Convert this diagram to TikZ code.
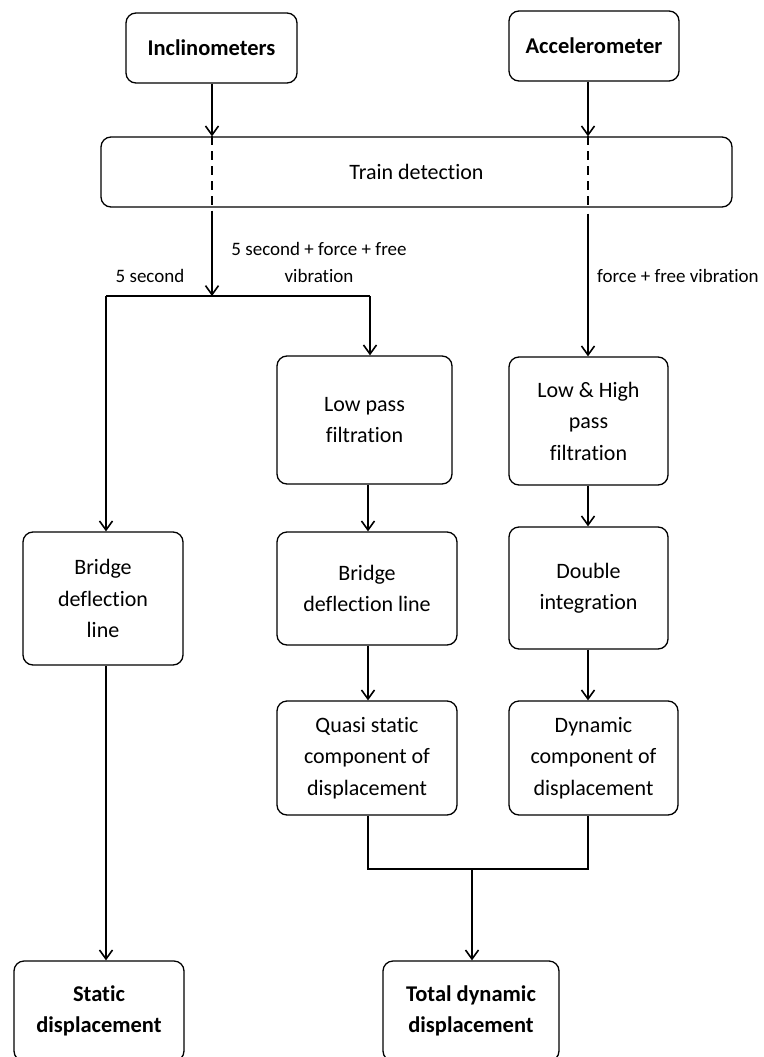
\documentclass[tikz,border=0pt]{standalone}
\usepackage{fontspec}
\setmainfont{Carlito}[Ligatures={NoCommon,NoContextual}]
\usetikzlibrary{arrows.meta,calc}
\begin{document}
\begin{tikzpicture}[x=1pt,y=-1pt,
  box/.style={draw, line width=1.3pt, rounded corners=10pt, align=center, inner sep=0pt,
    font=\fontsize{22}{31.5}\selectfont},
  bbox/.style={box, font=\fontsize{22.5}{31.5}\selectfont\bfseries},
  ln/.style={line width=1.9pt},
  arr/.style={line width=1.9pt, -{Straight Barb[length=9pt,width=13pt,line width=1.6pt]}},
  dsh/.style={line width=1.9pt, dash pattern=on 9pt off 6pt},
  lab/.style={font=\fontsize{19}{27}\selectfont, align=center, inner sep=0pt}]
\useasboundingbox (0,0) rectangle (763,1057);
\fill[white] (0,0) rectangle (763,1057);

% column coordinates
\coordinate (xI) at (212,0);
\coordinate (xR) at (588,0);
\coordinate (xM) at (368,0);
\coordinate (xL) at (106,0);
\coordinate (split) at (212,296);
\coordinate (hl) at (106,296);
\coordinate (hr) at (370,296);
\coordinate (bar) at (472,869);

% nodes
\node[bbox, minimum width=171pt, minimum height=70pt] (incl) at (211.5,48) {Inclinometers};
\node[bbox, minimum width=170pt, minimum height=70pt] (accel) at (594,46) {Accelerometer};
\node[box, minimum width=631pt, minimum height=70pt] (train) at (416.5,172) {Train detection};
\node[box, minimum width=175pt, minimum height=128pt] (lowpass) at (364.5,420) {Low pass\\filtration};
\node[box, minimum width=159pt, minimum height=128pt] (lowhigh) at (588.5,421) {Low \& High\\pass\\filtration};
\node[box, minimum width=160pt, minimum height=133pt] (bridgeL) at (103,598.5) {Bridge\\deflection\\line};
\node[box, minimum width=180pt, minimum height=113pt] (bridgeM) at (367,588.5) {Bridge\\deflection line};
\node[box, minimum width=159pt, minimum height=122pt] (double) at (588.5,588) {Double\\integration};
\node[box, minimum width=180pt, minimum height=114pt] (quasi) at (367,758) {Quasi static\\component of\\displacement};
\node[box, minimum width=169pt, minimum height=114pt] (dynamic) at (593.5,758) {Dynamic\\component of\\displacement};
\node[bbox, minimum width=170pt, minimum height=100pt] (static) at (99,1011) {Static\\displacement};
\node[bbox, minimum width=176pt, minimum height=100pt] (total) at (471,1011) {Total dynamic\\displacement};

% labels
\node[lab] (l5) at (150,276) {5 second};
\node[lab] (l5f) at (319,262) {5 second + force + free\\vibration};
\node[lab, anchor=west] (lf) at (597,276) {force + free vibration};

% connectors
\draw[arr] (incl.south -| xI) -- (train.north -| xI);
\draw[arr] (accel.south -| xR) -- (train.north -| xR);
\draw[dsh] (train.north -| xI) -- (train.south -| xI);
\draw[dsh] (train.north -| xR) -- (train.south -| xR);
\draw[arr] ($(train.south -| xI)+(0,3)$) -- (split);
\draw[ln] (hl) -- (hr);
\draw[arr] (hl) -- (bridgeL.north -| hl);
\draw[arr] (hr) -- (lowpass.north -| hr);
\draw[arr] ($(train.south -| xR)+(0,6)$) -- (lowhigh.north -| xR);
\draw[arr] (lowpass.south -| xM) -- (bridgeM.north -| xM);
\draw[arr] (bridgeM.south -| xM) -- (quasi.north -| xM);
\draw[arr] (lowhigh.south -| xR) -- (double.north -| xR);
\draw[arr] (double.south -| xR) -- (dynamic.north -| xR);
\draw[line width=2.3pt] (quasi.south -| xM) -- (xM |- bar) -- (xR |- bar) -- (dynamic.south -| xR);
\draw[arr] (bar) -- (total.north -| bar);
\draw[arr] (bridgeL.south -| xL) -- (static.north -| xL);
\end{tikzpicture}
\end{document}
